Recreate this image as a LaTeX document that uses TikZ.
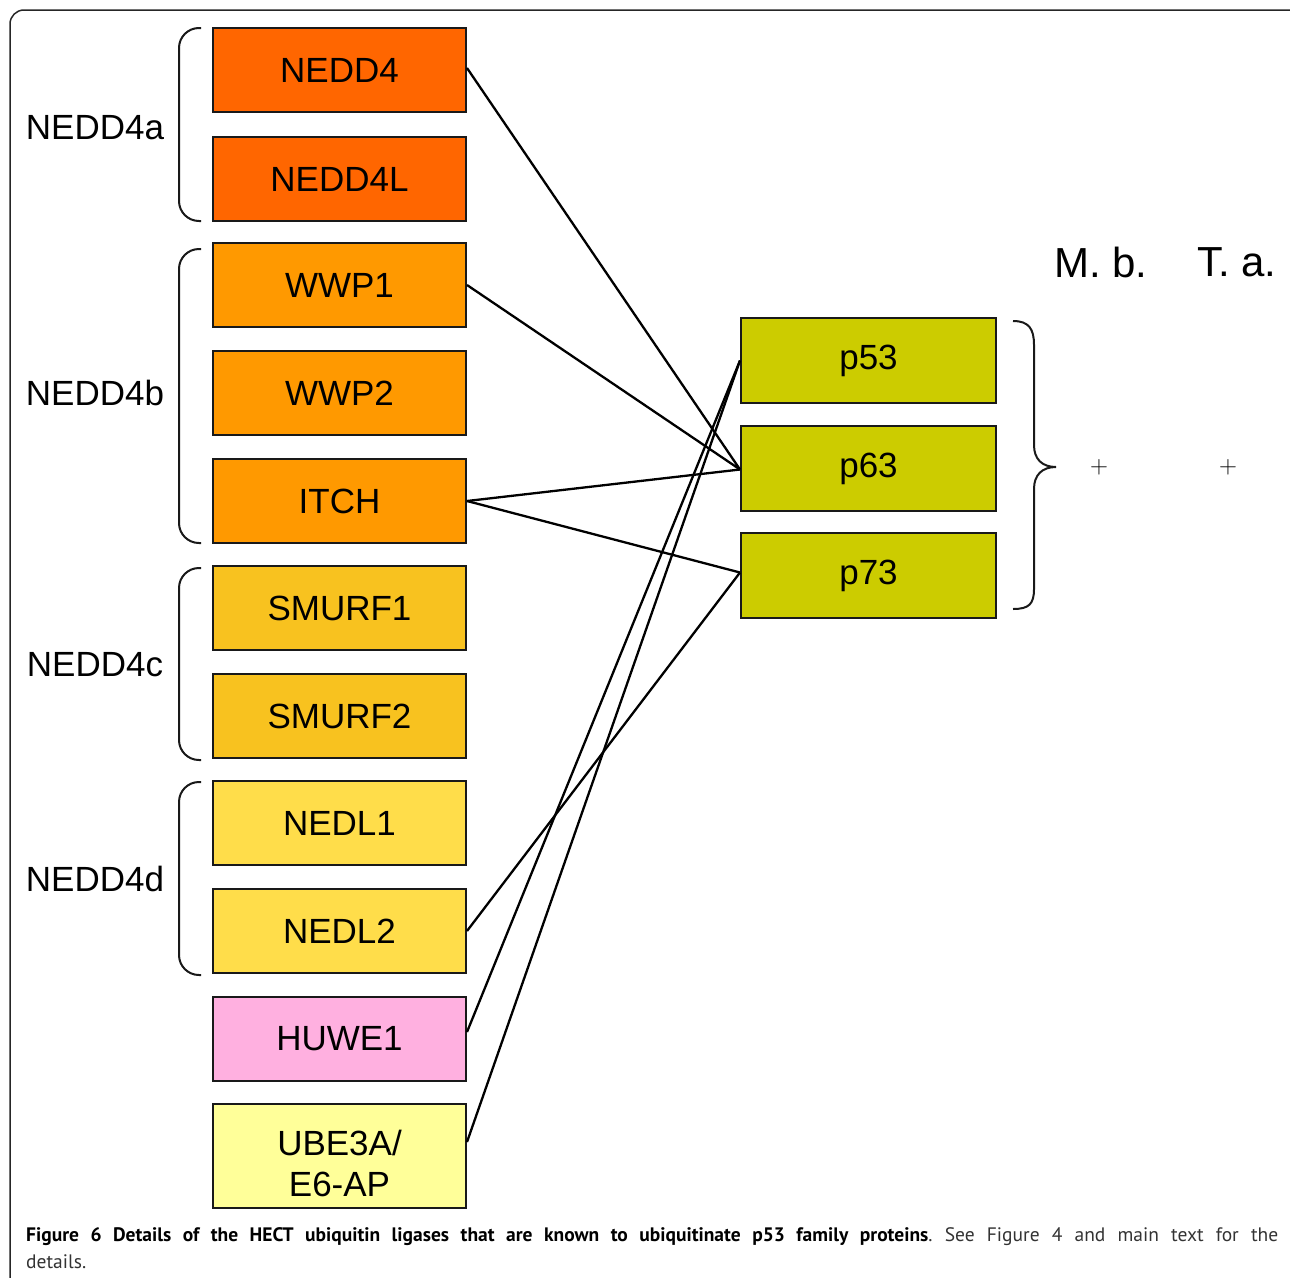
\documentclass[tikz,border=0pt]{standalone}
\usepackage{fontspec}
\setmainfont{Liberation Sans}
\newfontfamily\capfont{PT Sans}
\begin{document}
\frenchspacing
\begin{tikzpicture}[x=1pt,y=-1pt,
  lbox/.style={draw=black!90, line width=2pt, minimum width=253pt, minimum height=84pt, inner sep=0pt, font=\fontsize{35}{41}\selectfont, align=center},
  rbox/.style={draw=black!90, line width=2pt, fill=p53col, minimum width=255pt, minimum height=85pt, inner sep=0pt, font=\fontsize{35}{41}\selectfont},
  grp/.style={font=\fontsize{35}{41}\selectfont, inner sep=0pt},
  conn/.style={line width=2.3pt, black},
  brace/.style={line width=2pt, black!90},
  spec/.style={font=\fontsize{42}{48}\selectfont, inner sep=0pt}]
\definecolor{c4a}{HTML}{FF6600}
\definecolor{c4b}{HTML}{FF9900}
\definecolor{c4c}{HTML}{F8C21F}
\definecolor{c4d}{HTML}{FFDD4A}
\definecolor{chuwe}{HTML}{FFB0E0}
\definecolor{cube}{HTML}{FFFF99}
\definecolor{p53col}{HTML}{CCCC00}
\useasboundingbox (0,0) rectangle (1290,1277);
\begin{scope}
\clip (0,0) rectangle (1290,1277);
\draw[line width=1.5pt, black!85, rounded corners=14pt] (10,10) rectangle (1302,1300);
\end{scope}
% left boxes
\node[lbox, fill=c4a] (nedd4) at (339.5,70) {NEDD4};
\node[lbox, fill=c4a] (nedd4l) at (339.5,179) {NEDD4L};
\node[lbox, fill=c4b] (wwp1) at (339.5,285) {WWP1};
\node[lbox, fill=c4b] (wwp2) at (339.5,393) {WWP2};
\node[lbox, fill=c4b] (itch) at (339.5,501) {ITCH};
\node[lbox, fill=c4c] (smurf1) at (339.5,608) {SMURF1};
\node[lbox, fill=c4c] (smurf2) at (339.5,716) {SMURF2};
\node[lbox, fill=c4d] (nedl1) at (339.5,823) {NEDL1};
\node[lbox, fill=c4d] (nedl2) at (339.5,931) {NEDL2};
\node[lbox, fill=chuwe] (huwe) at (339.5,1039) {HUWE1};
\node[lbox, fill=cube, minimum height=104pt,
  label={[inner sep=0pt, yshift=-7pt, font=\fontsize{35}{41}\selectfont, align=center]center:UBE3A/\\E6-AP}] (ube) at (339.5,1156) {};
% right boxes
\node[rbox] (p53) at (868.5,360.5) {p53};
\node[rbox] (p63) at (868.5,468.5) {p63};
\node[rbox] (p73) at (868.5,575.5) {p73};
% group labels
\node[grp] (ga) at (95,128) {NEDD4a};
\node[grp] (gb) at (95,393) {NEDD4b};
\node[grp] (gc) at (95,665) {NEDD4c};
\node[grp] (gd) at (95,879) {NEDD4d};
% left braces
\draw[brace, rounded corners=20pt] (201,28) -- (179,28) -- (179,221) -- (201,221);
\draw[brace, rounded corners=20pt] (201,249) -- (179,249) -- (179,543) -- (201,543);
\draw[brace, rounded corners=20pt] (201,568) -- (179,568) -- (179,760) -- (201,760);
\draw[brace, rounded corners=20pt] (201,782) -- (179,782) -- (179,975) -- (201,975);
% right brace
\draw[brace] (1013,321) .. controls (1029,321) and (1034,329) .. (1034,345) -- (1034,445)
  .. controls (1034,459) and (1042,467) .. (1056,467)
  .. controls (1042,467) and (1034,475) .. (1034,489) -- (1034,589)
  .. controls (1034,604) and (1029,609) .. (1013,609);
% species
\node[spec] (mb) at (1101,262) {M. b.};
\node[spec] (ta) at (1237,262) {T. a.};
\node[inner sep=0pt, font=\fontsize{24}{28}\selectfont] (plus1) at (1099,467) {$+$};
\node[inner sep=0pt, font=\fontsize{24}{28}\selectfont] (plus2) at (1228,467) {$+$};
% connectors
\draw[conn] ([yshift=2pt]nedd4.east) -- ([yshift=-1pt]p63.west);
\draw[conn] (wwp1.east) -- ([yshift=-1pt]p63.west);
\draw[conn] (itch.east) -- ([yshift=-1pt]p63.west);
\draw[conn] (itch.east) -- ([yshift=3pt]p73.west);
\draw[conn] (nedl2.east) -- ([yshift=3pt]p73.west);
\draw[conn] ([yshift=7pt]huwe.east) -- (p53.west);
\draw[conn] ([yshift=14pt]ube.east) -- (p53.west);
% caption
\node[anchor=base west, inner sep=0pt, font=\capfont\fontsize{19.5}{27}\selectfont] (cap1) at (26,1241)
  {\makebox[1252pt][s]{\textbf{Figure 6 Details of the HECT ubiquitin ligases that are known to ubiquitinate p53 family proteins}\textcolor{black!80}{. See Figure 4 and main text for the}}};
\node[anchor=base west, inner sep=0pt, font=\capfont\fontsize{19.5}{27}\selectfont, text=black!80] (cap2) at (26,1268) {details.};
\end{tikzpicture}
\end{document}
